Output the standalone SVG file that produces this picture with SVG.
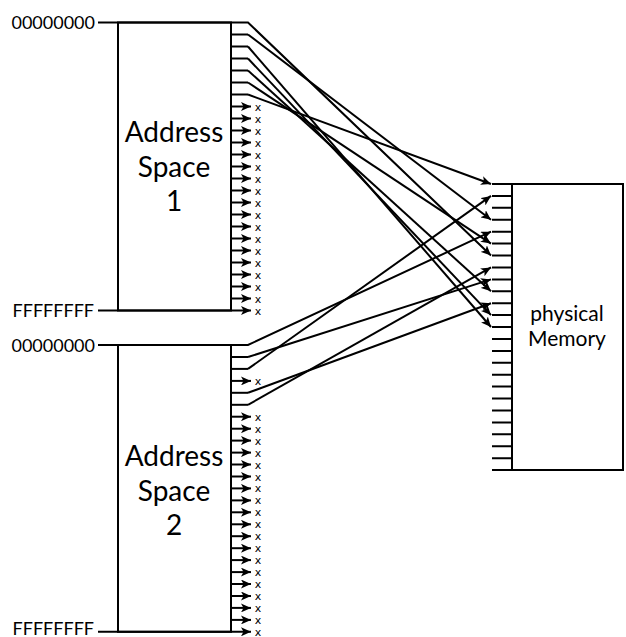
<svg xmlns="http://www.w3.org/2000/svg" width="626" height="637" viewBox="0 0 626 637">
<defs>
<marker id="ah" markerWidth="11" markerHeight="9" refX="10" refY="4.5" orient="auto" markerUnits="userSpaceOnUse"><path d="M0,0 L10,4.5 L0,9 L2.5,4.5 z" fill="#000"/></marker>
<style>
.ln{fill:none;stroke:#000;stroke-width:2}
.box{fill:#fff;stroke:#000;stroke-width:2}
.con{fill:none;stroke:#000;stroke-width:2;marker-end:url(#ah)}
.lbl{font-family:Lato,"Open Sans",sans-serif;font-size:18px;fill:#000}
.big{font-family:Lato,"Open Sans",sans-serif;font-size:28px;fill:#000;text-anchor:middle}
.pm{font-family:Lato,"Open Sans",sans-serif;font-size:21px;fill:#000;text-anchor:middle}
.x{font-family:"DejaVu Sans",sans-serif;font-size:11px;fill:#000;text-anchor:middle}
</style>
</defs>
<g id="space1">
<rect class="box" x="118" y="22.5" width="113" height="288"/>
<text class="lbl" x="95" y="29" text-anchor="end">00000000</text>
<text class="lbl" x="94" y="317" text-anchor="end">FFFFFFFF</text>
<line class="ln" x1="98" y1="22.5" x2="118" y2="22.5"/>
<text class="big" x="174" y="142">Address</text>
<text class="big" x="174" y="177">Space</text>
<text class="big" x="174" y="211">1</text>
<g class="ln">
<line x1="231" y1="34.5" x2="248" y2="34.5"/>
<line x1="231" y1="46.5" x2="248" y2="46.5"/>
<line x1="231" y1="58.5" x2="248" y2="58.5"/>
<line x1="231" y1="70.5" x2="248" y2="70.5"/>
<line x1="231" y1="82.5" x2="248" y2="82.5"/>
<line x1="231" y1="94.5" x2="248" y2="94.5"/>
</g>
</g>
<g id="space1-unmapped">
<line class="con" x1="231" y1="106.5" x2="251" y2="106.5"/><text class="x" x="258" y="110.5">x</text>
<line class="con" x1="231" y1="118.5" x2="251" y2="118.5"/><text class="x" x="258" y="122.5">x</text>
<line class="con" x1="231" y1="130.5" x2="251" y2="130.5"/><text class="x" x="258" y="134.5">x</text>
<line class="con" x1="231" y1="142.5" x2="251" y2="142.5"/><text class="x" x="258" y="146.5">x</text>
<line class="con" x1="231" y1="154.5" x2="251" y2="154.5"/><text class="x" x="258" y="158.5">x</text>
<line class="con" x1="231" y1="166.5" x2="251" y2="166.5"/><text class="x" x="258" y="170.5">x</text>
<line class="con" x1="231" y1="178.5" x2="251" y2="178.5"/><text class="x" x="258" y="182.5">x</text>
<line class="con" x1="231" y1="190.5" x2="251" y2="190.5"/><text class="x" x="258" y="194.5">x</text>
<line class="con" x1="231" y1="202.5" x2="251" y2="202.5"/><text class="x" x="258" y="206.5">x</text>
<line class="con" x1="231" y1="214.5" x2="251" y2="214.5"/><text class="x" x="258" y="218.5">x</text>
<line class="con" x1="231" y1="226.5" x2="251" y2="226.5"/><text class="x" x="258" y="230.5">x</text>
<line class="con" x1="231" y1="238.5" x2="251" y2="238.5"/><text class="x" x="258" y="242.5">x</text>
<line class="con" x1="231" y1="250.5" x2="251" y2="250.5"/><text class="x" x="258" y="254.5">x</text>
<line class="con" x1="231" y1="262.5" x2="251" y2="262.5"/><text class="x" x="258" y="266.5">x</text>
<line class="con" x1="231" y1="274.5" x2="251" y2="274.5"/><text class="x" x="258" y="278.5">x</text>
<line class="con" x1="231" y1="286.5" x2="251" y2="286.5"/><text class="x" x="258" y="290.5">x</text>
<line class="con" x1="231" y1="298.5" x2="251" y2="298.5"/><text class="x" x="258" y="302.5">x</text>
<line class="con" x1="98" y1="310.5" x2="251" y2="310.5"/><text class="x" x="258" y="314.5">x</text>
</g>
<g id="space2">
<rect class="box" x="118" y="345" width="113" height="286.8"/>
<text class="lbl" x="95" y="351.5" text-anchor="end">00000000</text>
<text class="lbl" x="94" y="634.5" text-anchor="end">FFFFFFFF</text>
<line class="ln" x1="98" y1="345" x2="118" y2="345"/>
<text class="big" x="174" y="466">Address</text>
<text class="big" x="174" y="501">Space</text>
<text class="big" x="174" y="535">2</text>
<g class="ln">
<line x1="231" y1="357" x2="248" y2="357"/>
<line x1="231" y1="368.9" x2="248" y2="368.9"/>
<line x1="231" y1="392.8" x2="248" y2="392.8"/>
<line x1="231" y1="404.8" x2="248" y2="404.8"/>
</g>
</g>
<g id="space2-unmapped">
<line class="con" x1="231" y1="380.9" x2="251" y2="380.9"/><text class="x" x="258" y="384.9">x</text>
<line class="con" x1="231" y1="416.7" x2="251" y2="416.7"/><text class="x" x="258" y="420.7">x</text>
<line class="con" x1="231" y1="428.7" x2="251" y2="428.7"/><text class="x" x="258" y="432.7">x</text>
<line class="con" x1="231" y1="440.6" x2="251" y2="440.6"/><text class="x" x="258" y="444.6">x</text>
<line class="con" x1="231" y1="452.6" x2="251" y2="452.6"/><text class="x" x="258" y="456.6">x</text>
<line class="con" x1="231" y1="464.5" x2="251" y2="464.5"/><text class="x" x="258" y="468.5">x</text>
<line class="con" x1="231" y1="476.5" x2="251" y2="476.5"/><text class="x" x="258" y="480.5">x</text>
<line class="con" x1="231" y1="488.4" x2="251" y2="488.4"/><text class="x" x="258" y="492.4">x</text>
<line class="con" x1="231" y1="500.4" x2="251" y2="500.4"/><text class="x" x="258" y="504.4">x</text>
<line class="con" x1="231" y1="512.3" x2="251" y2="512.3"/><text class="x" x="258" y="516.3">x</text>
<line class="con" x1="231" y1="524.3" x2="251" y2="524.3"/><text class="x" x="258" y="528.3">x</text>
<line class="con" x1="231" y1="536.2" x2="251" y2="536.2"/><text class="x" x="258" y="540.2">x</text>
<line class="con" x1="231" y1="548.2" x2="251" y2="548.2"/><text class="x" x="258" y="552.2">x</text>
<line class="con" x1="231" y1="560.1" x2="251" y2="560.1"/><text class="x" x="258" y="564.1">x</text>
<line class="con" x1="231" y1="572.1" x2="251" y2="572.1"/><text class="x" x="258" y="576.1">x</text>
<line class="con" x1="231" y1="584" x2="251" y2="584"/><text class="x" x="258" y="588">x</text>
<line class="con" x1="231" y1="596" x2="251" y2="596"/><text class="x" x="258" y="600">x</text>
<line class="con" x1="231" y1="607.9" x2="251" y2="607.9"/><text class="x" x="258" y="611.9">x</text>
<line class="con" x1="231" y1="619.9" x2="251" y2="619.9"/><text class="x" x="258" y="623.9">x</text>
<line class="con" x1="98" y1="631.8" x2="251" y2="631.8"/><text class="x" x="258" y="635.5">x</text>
</g>
<g id="physical-memory">
<rect class="box" x="512" y="184" width="111" height="286"/>
<text class="pm" x="567" y="321">physical</text>
<text class="pm" x="567" y="346">Memory</text>
<path class="ln" d="M492,184H512M492,195.9H512M492,207.8H512M492,219.8H512M492,231.7H512M492,243.6H512M492,255.5H512M492,267.4H512M492,279.4H512M492,291.3H512M492,303.2H512M492,315.1H512M492,327H512M492,339H512M492,350.9H512M492,362.8H512M492,374.7H512M492,386.6H512M492,398.6H512M492,410.5H512M492,422.4H512M492,434.3H512M492,446.2H512M492,458.2H512M492,470H512"/>
</g>
<g id="connectors">
<polyline class="con" points="118,22.5 248,22.5 491,255.5"/>
<polyline class="con" points="248,34.5 491,219.8"/>
<polyline class="con" points="248,46.5 491,327"/>
<polyline class="con" points="248,58.5 491,315.1"/>
<polyline class="con" points="248,70.5 491,291.3"/>
<polyline class="con" points="248,82.5 491,243.6"/>
<polyline class="con" points="248,94.5 491,184"/>
<polyline class="con" points="231,345 248,345 491,231.7"/>
<polyline class="con" points="248,357 491,279.4"/>
<polyline class="con" points="248,368.9 491,195.9"/>
<polyline class="con" points="248,392.8 491,303.2"/>
<polyline class="con" points="248,404.8 491,267.4"/>
</g>
</svg>
